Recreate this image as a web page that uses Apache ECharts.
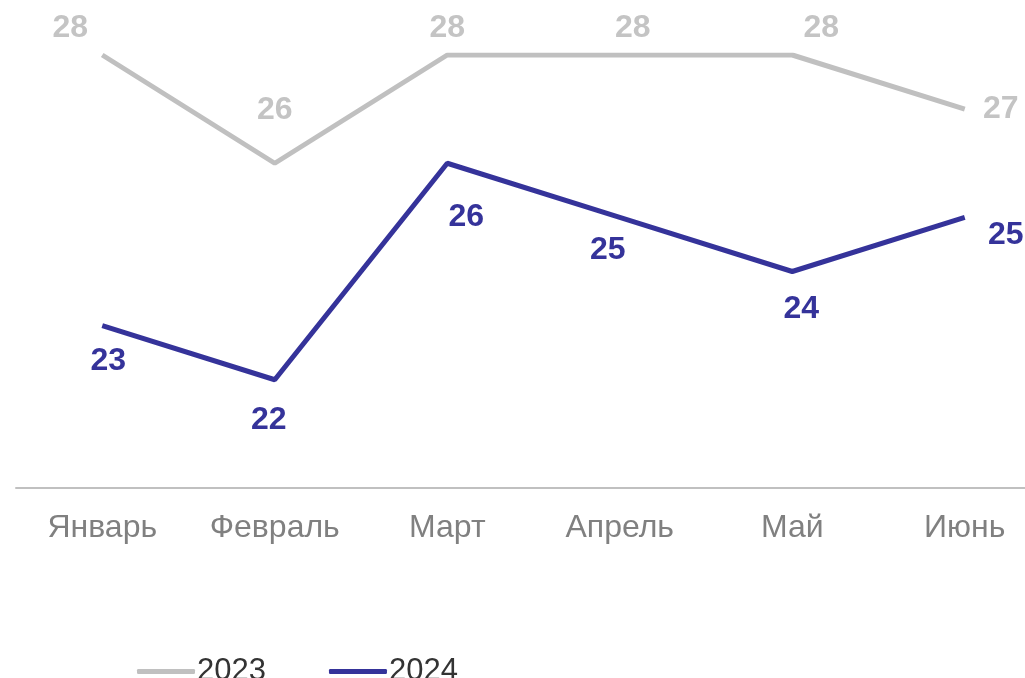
<!DOCTYPE html>
<html>
<head>
<meta charset="utf-8">
<script src="https://cdn.jsdelivr.net/npm/echarts@6/dist/echarts.min.js"></script>
<style>
  html, body { margin: 0; padding: 0; background: #fff; }
  #chart { width: 1025px; height: 678px; }
</style>
</head>
<body>
<div id="chart"></div>
<script>
const months = ['Январь', 'Февраль', 'Март', 'Апрель', 'Май', 'Июнь']
const values2023 = [28, 26, 28, 28, 28, 27]
const values2024 = [23, 22, 26, 25, 24, 25]

// label nudges, hand-placed to mirror the original slide
const offsets2023 = [[-32, -27], [0, -53], [0, -27], [13, -27], [29, -27], [36, 0]]
const offsets2024 = [[6, 36], [-6, 40], [19, 54], [-12, 33], [9, 38], [41, 18]]

const FONT = '"Liberation Sans", Arial, sans-serif'

function withLabels(values, offsets) {
    return values.map((v, i) => ({
        value: v,
        label: { offset: offsets[i] },
    }))
}

function makeSeries(name, values, offsets, color, labelColor) {
    return {
        name: name,
        type: 'line',
        data: withLabels(values, offsets),
        symbol: 'circle',
        symbolSize: 0,
        lineStyle: { color: color, width: 5 },
        itemStyle: { color: color },
        label: {
            show: true,
            position: 'inside',
            color: labelColor,
            fontFamily: FONT,
            fontWeight: 'bold',
            fontSize: 32,
        },
        animation: false,
    }
}

const chart = echarts.init(document.getElementById('chart'))
chart.setOption({
    backgroundColor: '#fff',
    grid: { left: 16, top: 55, width: 1035, height: 433, outerBoundsMode: 'none', containLabel: false },
    legend: {
        left: 137,
        top: 656,
        padding: 0,
        itemWidth: 58,
        itemHeight: 5,
        itemGap: 63,
        textStyle: { fontFamily: FONT, fontSize: 31, color: '#333', padding: [0, 0, 0, -3] },
        data: [
            { name: '2023', icon: 'roundRect' },
            { name: '2024', icon: 'roundRect' },
        ],
    },
    xAxis: {
        type: 'category',
        data: months,
        boundaryGap: true,
        axisLine: { lineStyle: { color: '#c0c0c0', width: 2 } },
        axisTick: { show: false },
        axisLabel: {
            color: '#808080',
            fontFamily: FONT,
            fontSize: 32,
            margin: 24,
        },
    },
    yAxis: {
        type: 'value',
        min: 20,
        max: 28,
        interval: 2,
        show: false,
        splitLine: { show: false },
    },
    series: [
        makeSeries('2023', values2023, offsets2023, '#c0c0c0', '#c4c4c4'),
        makeSeries('2024', values2024, offsets2024, '#35339a', '#35339a'),
    ],
})
</script>
</body>
</html>
